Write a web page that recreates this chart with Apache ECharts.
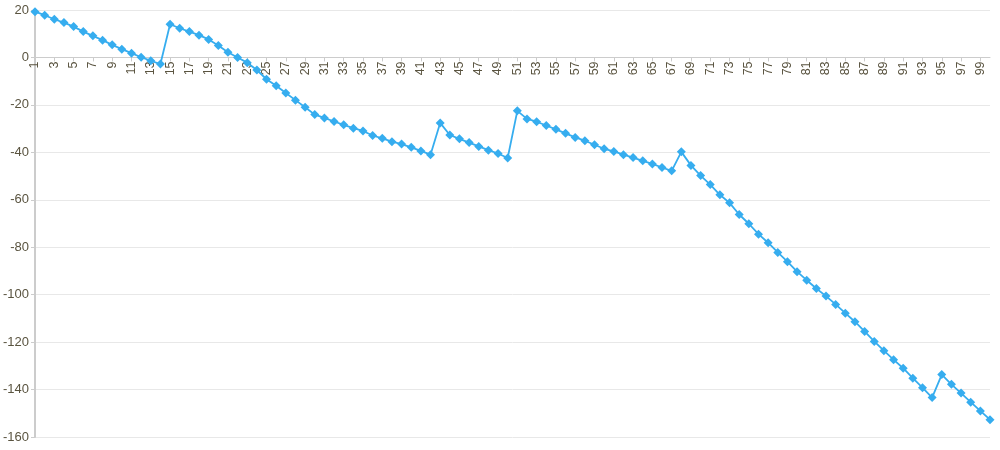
<!DOCTYPE html>
<html>
<head>
<meta charset="utf-8">
<script src="https://cdn.jsdelivr.net/npm/echarts@6/dist/echarts.min.js"></script>
<style>
	html, body { margin: 0; padding: 0; background: #fff; }
	#chart { width: 1000px; height: 450px; }
</style>
</head>
<body>
<div id="chart"></div>
<script>
	// x categories 1..100
	var categories = ['1','2','3','4','5','6','7','8','9','10','11','12','13','14','15','16','17','18','19','20',
		'21','22','23','24','25','26','27','28','29','30','31','32','33','34','35','36','37','38','39','40',
		'41','42','43','44','45','46','47','48','49','50','51','52','53','54','55','56','57','58','59','60',
		'61','62','63','64','65','66','67','68','69','70','71','72','73','74','75','76','77','78','79','80',
		'81','82','83','84','85','86','87','88','89','90','91','92','93','94','95','96','97','98','99','100']

	// values
	var values = [19.3, 17.8, 16.1, 14.7, 13.0, 10.9, 9.1, 7.3, 5.3, 3.5,
		1.8, 0.1, -1.4, -2.8, 14.0, 12.3, 10.9, 9.4, 7.6, 5.0,
		2.2, 0.0, -2.2, -5.3, -9.2, -11.9, -15.0, -18.0, -21.0, -24.1,
		-25.5, -27.0, -28.4, -29.8, -31.0, -32.9, -34.1, -35.5, -36.5, -37.9,
		-39.4, -41.0, -27.6, -32.7, -34.3, -35.9, -37.5, -39.1, -40.5, -42.4,
		-22.5, -25.9, -27.1, -28.7, -30.3, -32.0, -33.7, -35.1, -36.8, -38.5,
		-39.6, -41.0, -42.2, -43.6, -44.9, -46.4, -47.8, -39.8, -45.5, -49.8,
		-53.6, -57.9, -61.3, -66.2, -70.1, -74.5, -78.1, -82.2, -86.1, -90.3,
		-93.9, -97.4, -100.6, -104.1, -107.8, -111.4, -115.5, -119.7, -123.6, -127.4,
		-131.0, -135.2, -139.2, -143.4, -133.7, -137.8, -141.5, -145.3, -149.0, -152.7]

	var yTicks = { min: -160, max: 20, interval: 20 }

	var gridTop = 10
	var gridBottom = 13
	var plotH = 450 - gridTop - gridBottom
	// put the category axis on the zero line, labels hanging below it
	var zeroOffset = -plotH * yTicks.max / (yTicks.max - yTicks.min)

	var chart = echarts.init(document.getElementById('chart'))
	var option = {
		animation: false,
		grid: {
			left: 33,
			right: 10,
			top: gridTop,
			bottom: gridBottom
		},
		xAxis: {
			type: 'category',
			position: 'top',
			offset: zeroOffset,
			boundaryGap: false,
			data: categories,
			axisLine: { onZero: false, lineStyle: { color: '#cccccc' } },
			axisTick: { show: true, inside: true, interval: 1, length: 4, lineStyle: { color: '#cccccc' } },
			axisLabel: {
				inside: true,
				interval: 1,
				rotate: -90,
				color: '#5a5440',
				fontSize: 12.5,
				fontFamily: 'Liberation Sans',
				margin: 4
			},
			splitLine: { show: false }
		},
		yAxis: {
			type: 'value',
			min: yTicks.min,
			max: yTicks.max,
			interval: yTicks.interval,
			axisLine: { show: true, lineStyle: { color: '#cccccc', width: 2 } },
			axisTick: { show: true, length: 4, lineStyle: { color: '#cccccc' } },
			axisLabel: {
				color: '#5a5440',
				fontSize: 13,
				fontFamily: 'Liberation Sans',
				margin: 6
			},
			splitLine: { lineStyle: { color: '#e8e8e8' } }
		},
		series: [{
			type: 'line',
			data: values,
			symbol: 'diamond',
			symbolSize: 9,
			showAllSymbol: true,
			lineStyle: { color: '#36adef', width: 1.8 },
			itemStyle: { color: '#36adef' }
		}]
	}
	chart.setOption(option)
</script>
</body>
</html>
